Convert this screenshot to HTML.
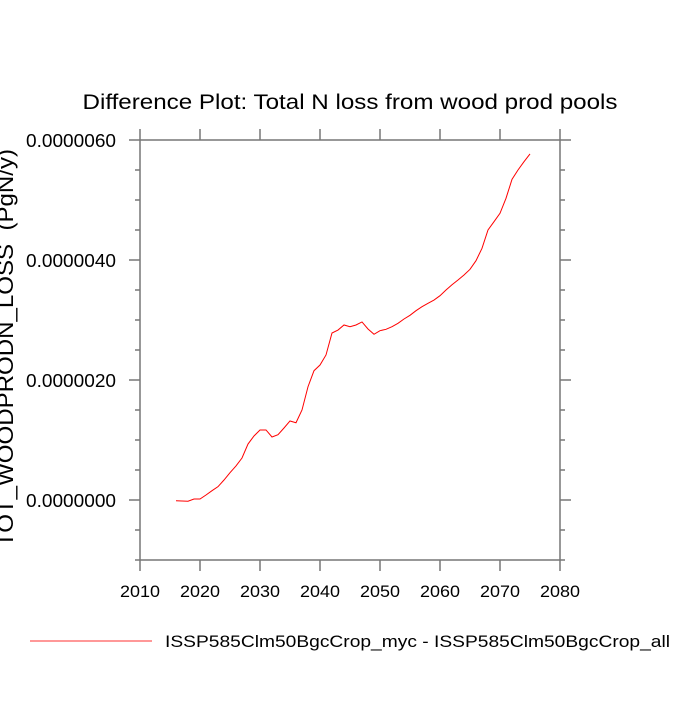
<!DOCTYPE html>
<html><head><meta charset="utf-8"><style>
html,body{margin:0;padding:0;background:#fff;}
svg text{font-family:"Liberation Sans",sans-serif;fill:#000;}
</style></head><body>
<svg id="chart" width="700" height="700" viewBox="0 0 700 700" xmlns="http://www.w3.org/2000/svg">
<text x="350" y="109" font-size="21" text-anchor="middle" textLength="535" lengthAdjust="spacingAndGlyphs">Difference Plot: Total N loss from wood prod pools</text>
<text transform="translate(13,348) rotate(-90)" font-size="22" text-anchor="middle" textLength="398" lengthAdjust="spacingAndGlyphs" xml:space="preserve">TOT_WOODPRODN_LOSS  (PgN/y)</text>
<g id="axes"></g>
<g id="series"></g>
<g>
<line x1="30" y1="641" x2="152" y2="641" stroke="#ff7777" stroke-width="1.5"/>
<text x="165" y="647" font-size="17" textLength="505" lengthAdjust="spacingAndGlyphs">ISSP585Clm50BgcCrop_myc - ISSP585Clm50BgcCrop_all</text>
</g>
</svg>
<script>
const years = [2016,2017,2018,2019,2020,2021,2022,2023,2024,2025,2026,2027,2028,2029,2030,2031,2032,2033,2034,2035,2036,2037,2038,2039,2040,2041,2042,2043,2044,2045,2046,2047,2048,2049,2050,2051,2052,2053,2054,2055,2056,2057,2058,2059,2060,2061,2062,2063,2064,2065,2066,2067,2068,2069,2070,2071,2072,2073,2074,2075];
const valuesE7 = [-0.12,-0.17,-0.2,0.17,0.17,0.83,1.55,2.22,3.33,4.55,5.67,7.0,9.33,10.67,11.67,11.67,10.5,10.88,12.0,13.17,12.88,15.0,18.88,21.55,22.5,24.17,27.83,28.33,29.17,28.88,29.17,29.67,28.5,27.62,28.22,28.45,28.88,29.45,30.17,30.78,31.55,32.22,32.78,33.33,34.05,35.0,35.88,36.67,37.5,38.45,39.88,41.95,45.0,46.38,47.78,50.28,53.45,55.0,56.38,57.67];
const xTicks = [2010,2020,2030,2040,2050,2060,2070,2080];
const yTicksE7 = [0,20,40,60];
const yTickLabels = ["0.0000000","0.0000020","0.0000040","0.0000060"];
const yMinorE7 = [-10,-5,5,10,15,25,30,35,45,50,55];

const L=140,R=560,T=140,B=560;
const xMin=2010,xMax=2080,yMin=-10,yMax=60;
function xs(v){return L+(v-xMin)/(xMax-xMin)*(R-L);}
function ys(v){return B-(v-yMin)/(yMax-yMin)*(B-T);}
const NS="http://www.w3.org/2000/svg";
const axes=document.getElementById('axes');
function ln(x1,y1,x2,y2,name){
  const e=document.createElementNS(NS,'line');
  e.setAttribute('x1',x1);e.setAttribute('y1',y1);e.setAttribute('x2',x2);e.setAttribute('y2',y2);
  e.setAttribute('stroke','#777');e.setAttribute('stroke-width','1.5');
  
  
  axes.appendChild(e);return e;
}
function tx(x,y,s,anchor,size,len,name){
  const e=document.createElementNS(NS,'text');
  e.setAttribute('x',x);e.setAttribute('y',y);e.setAttribute('font-size',size);e.setAttribute('text-anchor',anchor);
  e.setAttribute('textLength',len);e.setAttribute('lengthAdjust','spacingAndGlyphs');
  e.textContent=s;
  
  
  axes.appendChild(e);
}
ln(L,T,R,T,'plot-frame-top');ln(L,B,R,B,'plot-frame-bottom');
ln(L,T,L,B,'plot-frame-left');ln(R,T,R,B,'plot-frame-right');
xTicks.forEach(v=>{
  const x=xs(v);
  ln(x,B,x,B+11,'x-tick');ln(x,T,x,T-11,'x-tick-top');
  tx(x,B+37,String(v),'middle','17','40','x-tick-label');
});
yTicksE7.forEach((v,i)=>{
  const y=ys(v);
  ln(L-11,y,L,y,'y-tick');ln(R,y,R+11,y,'y-tick-right');
  tx(116,y+7,yTickLabels[i],'end','18','90','y-tick-label');
});
yMinorE7.forEach(v=>{
  const y=ys(v);
  ln(L-5,y,L,y,'y-minor-tick');ln(R,y,R+5,y,'y-minor-tick-right');
});
const series=document.getElementById('series');
const p=document.createElementNS(NS,'polyline');
p.setAttribute('points',years.map((yr,i)=>xs(yr)+','+ys(valuesE7[i])).join(' '));
p.setAttribute('fill','none');p.setAttribute('stroke','#ff0000');p.setAttribute('stroke-width','1');


series.appendChild(p);
</script>
</body></html>
